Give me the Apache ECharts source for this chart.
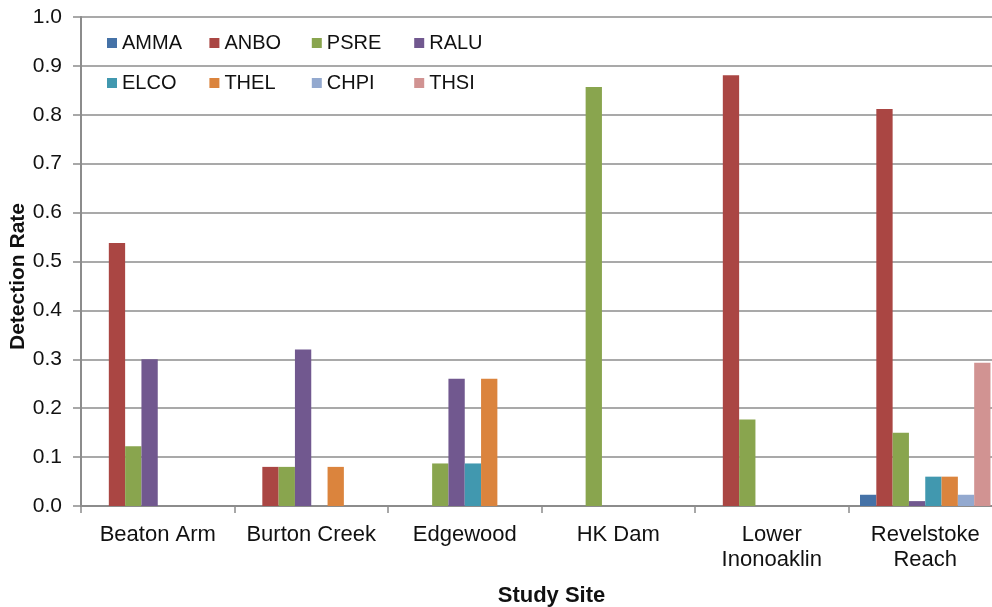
<!DOCTYPE html>
<html>
<head>
<meta charset="utf-8">
<title>Detection Rate by Study Site</title>
<script src="https://cdn.jsdelivr.net/npm/echarts@6/dist/echarts.min.js"></script>
<style>
  html, body { margin: 0; padding: 0; background: #fff; }
  #chart { width: 992px; height: 607px; }
</style>
</head>
<body>
<div id="chart"></div>
<script>
// Study sites along the x axis
var sites = ['Beaton Arm', 'Burton Creek', 'Edgewood', 'HK Dam', 'Lower\nInonoaklin', 'Revelstoke\nReach'];

// Species codes (legend order)
var species = ['AMMA', 'ANBO', 'PSRE', 'RALU', 'ELCO', 'THEL', 'CHPI', 'THSI'];

// Detection rate per species, one value per site
var amma = [0, 0, 0, 0, 0, 0.023];
var anbo = [0.538, 0.08, 0, 0, 0.881, 0.812];
var psre = [0.122, 0.08, 0.087, 0.857, 0.177, 0.15];
var ralu = [0.3, 0.32, 0.26, 0, 0, 0.01];
var elco = [0, 0, 0.087, 0, 0, 0.06];
var thel = [0, 0.08, 0.26, 0, 0, 0.06];
var chpi = [0, 0, 0, 0, 0, 0.023];
var thsi = [0, 0, 0, 0, 0, 0.293];

// Y axis range and step
var yMin = 0, yMax = 1, yStep = 0.1;

var values = [amma, anbo, psre, ralu, elco, thel, chpi, thsi];
var colors = ['#4572A7', '#AA4643', '#89A54E', '#71588F', '#4198AF', '#DB843D', '#93A9CF', '#D19392'];

var FONT = '"Liberation Sans", Arial, sans-serif';
var GRID_GREY = '#8c8c8c';

var chart = echarts.init(document.getElementById('chart'), null, { renderer: 'canvas' });

// One legend block per species, laid out in a 4 x 2 grid
var legends = species.map(function (name, i) {
  return {
    data: [name],
    left: 107 + (i % 4) * 102.4,
    top: i < 4 ? 33 : 73,
    padding: 0,
    itemWidth: 10,
    itemHeight: 10,
    icon: 'rect',
    textStyle: { fontFamily: FONT, fontSize: 20, color: '#111' }
  };
});

var series = species.map(function (name, i) {
  return {
    name: name,
    type: 'bar',
    data: values[i],
    barGap: '0%',
    barCategoryGap: '15%',
    itemStyle: { color: colors[i] },
    emphasis: { disabled: true }
  };
});

chart.setOption({
  animation: false,
  color: colors,
  legend: legends,
  grid: {
    left: 81,
    top: 17,
    width: 921,
    height: 489,
    outerBoundsMode: 'none'
  },
  xAxis: {
    type: 'category',
    data: sites,
    name: 'Study Site',
    nameLocation: 'middle',
    nameGap: 79,
    nameMoveOverlap: false,
    nameTextStyle: {
      fontFamily: FONT, fontSize: 22, fontWeight: 'bold', color: '#111',
      padding: [0, 0, 0, 20]
    },
    axisLine: { lineStyle: { color: GRID_GREY, width: 2 } },
    axisTick: { show: true, length: 7, alignWithLabel: false, lineStyle: { color: GRID_GREY, width: 1.5 } },
    axisLabel: {
      fontFamily: FONT, fontSize: 22, color: '#111', margin: 16, lineHeight: 25,
      interval: 0
    }
  },
  yAxis: {
    type: 'value',
    min: yMin,
    max: yMax,
    interval: yStep,
    name: 'Detection Rate',
    nameLocation: 'middle',
    nameGap: 52,
    nameRotate: 90,
    nameMoveOverlap: false,
    nameTextStyle: {
      fontFamily: FONT, fontSize: 21, fontWeight: 'bold', color: '#111',
      padding: [0, 30, 0, 0]
    },
    axisLine: { show: true, lineStyle: { color: GRID_GREY, width: 2 } },
    axisTick: { show: true, length: 8, lineStyle: { color: GRID_GREY, width: 1.5 } },
    axisLabel: {
      fontFamily: FONT, fontSize: 21, color: '#111', margin: 19,
      formatter: function (v) { return v.toFixed(1); }
    },
    splitLine: { show: true, lineStyle: { color: GRID_GREY, width: 1.5 } }
  },
  series: series
});
</script>
</body>
</html>
